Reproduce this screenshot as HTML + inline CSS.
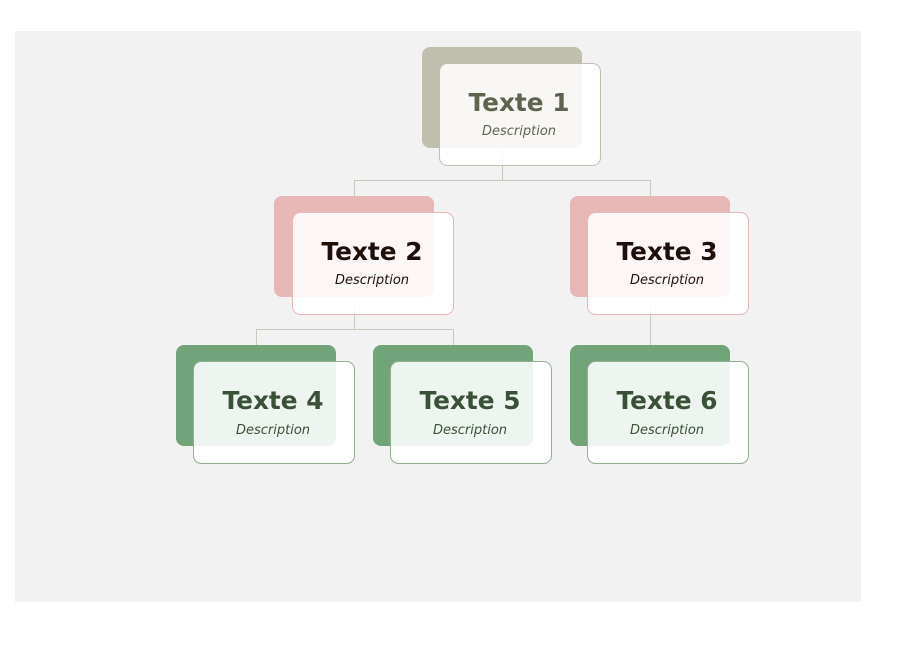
<!DOCTYPE html>
<html><head><meta charset="utf-8"><style>html,body{margin:0;padding:0;background:#fff}svg{display:block}</style></head>
<body>
<svg width="916" height="648" viewBox="0 0 916 648" xmlns="http://www.w3.org/2000/svg" font-family="'DejaVu Sans','Liberation Sans',sans-serif">
<rect x="15" y="31" width="846" height="571" fill="#f2f2f2"/>
<g stroke="#c9c9bd" stroke-width="1" fill="none">
<path d="M502.5 148 V180.5 M354.5 196 V180.5 H650.5 V196"/>
<path d="M354.5 297 V329.5 M256.5 345 V329.5 H453.5 V345"/>
<path d="M650.5 297 V345"/>
</g>
<rect x="422" y="47" width="160" height="101" rx="8" fill="#c1bfb0"/>
<rect x="439.5" y="63.5" width="161" height="102" rx="8" fill="#fff" fill-opacity="0.88" stroke="#c1bfb0"/>
<text x="519" y="111" text-anchor="middle" font-weight="bold" font-size="24.8" fill="#5f6450">Texte 1</text>
<text x="519" y="135" text-anchor="middle" font-style="italic" font-size="13" fill="#5f6450">Description</text>
<rect x="274" y="196" width="160" height="101" rx="8" fill="#e8b7b7"/>
<rect x="292.5" y="212.5" width="161" height="102" rx="8" fill="#fff" fill-opacity="0.88" stroke="#e8b7b7"/>
<text x="372" y="260" text-anchor="middle" font-weight="bold" font-size="24.8" fill="#1f0f0a">Texte 2</text>
<text x="372" y="284" text-anchor="middle" font-style="italic" font-size="13" fill="#1f0f0a">Description</text>
<rect x="570" y="196" width="160" height="101" rx="8" fill="#e8b7b7"/>
<rect x="587.5" y="212.5" width="161" height="102" rx="8" fill="#fff" fill-opacity="0.88" stroke="#e8b7b7"/>
<text x="667" y="260" text-anchor="middle" font-weight="bold" font-size="24.8" fill="#1f0f0a">Texte 3</text>
<text x="667" y="284" text-anchor="middle" font-style="italic" font-size="13" fill="#1f0f0a">Description</text>
<rect x="176" y="345" width="160" height="101" rx="8" fill="#72a47a"/>
<rect x="193.5" y="361.5" width="161" height="102" rx="8" fill="#fff" fill-opacity="0.88" stroke="#94ae94"/>
<text x="273" y="409" text-anchor="middle" font-weight="bold" font-size="24.8" fill="#3a5038">Texte 4</text>
<text x="273" y="434" text-anchor="middle" font-style="italic" font-size="13" fill="#3a5038">Description</text>
<rect x="373" y="345" width="160" height="101" rx="8" fill="#72a47a"/>
<rect x="390.5" y="361.5" width="161" height="102" rx="8" fill="#fff" fill-opacity="0.88" stroke="#94ae94"/>
<text x="470" y="409" text-anchor="middle" font-weight="bold" font-size="24.8" fill="#3a5038">Texte 5</text>
<text x="470" y="434" text-anchor="middle" font-style="italic" font-size="13" fill="#3a5038">Description</text>
<rect x="570" y="345" width="160" height="101" rx="8" fill="#72a47a"/>
<rect x="587.5" y="361.5" width="161" height="102" rx="8" fill="#fff" fill-opacity="0.88" stroke="#94ae94"/>
<text x="667" y="409" text-anchor="middle" font-weight="bold" font-size="24.8" fill="#3a5038">Texte 6</text>
<text x="667" y="434" text-anchor="middle" font-style="italic" font-size="13" fill="#3a5038">Description</text>
</svg>
</body></html>
